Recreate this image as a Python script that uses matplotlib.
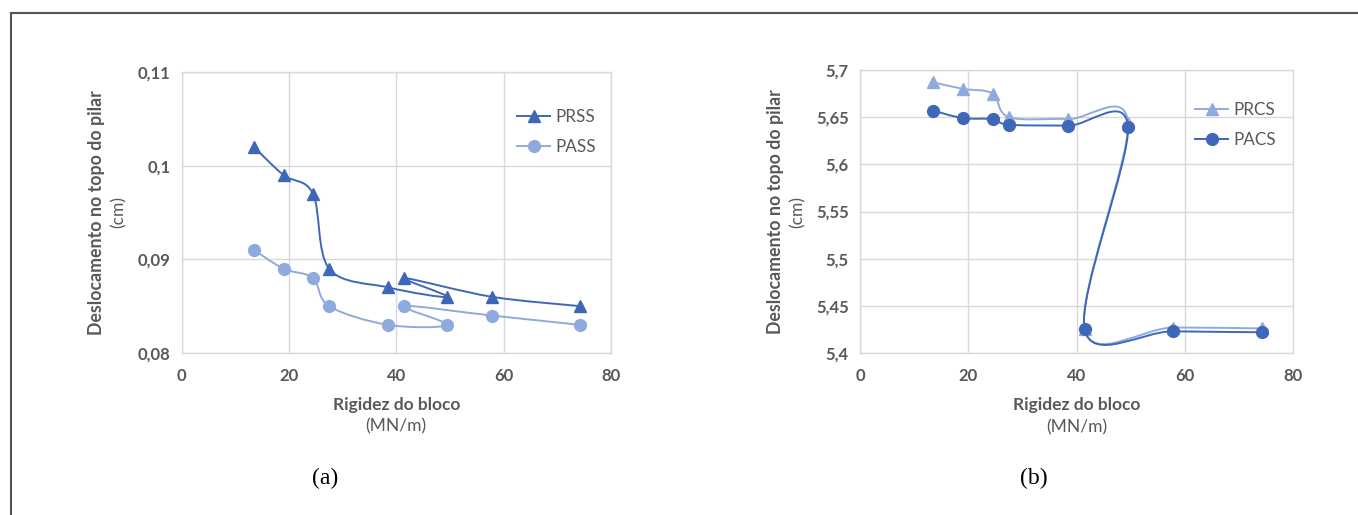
import numpy as np
import matplotlib
matplotlib.use("Agg")
import matplotlib.pyplot as plt
from matplotlib.path import Path
from matplotlib.patches import PathPatch
from matplotlib.lines import Line2D

# Block stiffness (MN/m), in the order the series were plotted
rigidez = [13.5, 19.0, 24.5, 27.5, 38.5, 49.5, 41.5, 57.8, 74.3]

# Panel (a): displacement at pillar top (cm)
prss = [0.102, 0.099, 0.097, 0.089, 0.087, 0.086, 0.088, 0.086, 0.085]
pass_ = [0.091, 0.089, 0.088, 0.085, 0.083, 0.083, 0.085, 0.084, 0.083]

# Panel (b): displacement at pillar top (cm)
prcs = [5.687, 5.680, 5.675, 5.650, 5.648, 5.644, 5.425, 5.427, 5.426]
pacs = [5.657, 5.649, 5.648, 5.642, 5.641, 5.640, 5.425, 5.423, 5.422]

x_ticks = [0, 20, 40, 60, 80]
y_ticks_a = [0.08, 0.09, 0.10, 0.11]
y_tick_labels_a = ["0,08", "0,09", "0,1", "0,11"]
y_ticks_b = [5.40, 5.45, 5.50, 5.55, 5.60, 5.65, 5.70]
y_tick_labels_b = ["5,4", "5,45", "5,5", "5,55", "5,6", "5,65", "5,7"]

DARK = "#3F67B8"
LIGHT = "#8FAADC"
GRID = "#D9D9D9"
TXT = "#595959"
FONT = "Lato"

W, H = 1358, 515
fig = plt.figure(figsize=(W / 100, H / 100), dpi=100)


def px_axes(left, top, right, bottom):
    return fig.add_axes([left / W, 1 - bottom / H, (right - left) / W, (bottom - top) / H])


def smooth_path(xs, ys, t=1 / 6):
    """Cubic Bezier through the points, office-style smoothing."""
    pts = np.column_stack([xs, ys]).astype(float)
    n = len(pts)
    verts = [pts[0]]
    codes = [Path.MOVETO]
    for i in range(n - 1):
        p0 = pts[i - 1] if i > 0 else pts[i]
        p1 = pts[i]
        p2 = pts[i + 1]
        p3 = pts[i + 2] if i + 2 < n else pts[i + 1]
        c1 = p1 + (p2 - p0) * t
        c2 = p2 - (p3 - p1) * t
        verts += [c1, c2, p2]
        codes += [Path.CURVE4] * 3
    return Path(verts, codes)


def series(ax, xs, ys, color, marker, ms, label, z):
    ax.add_patch(PathPatch(smooth_path(xs, ys), facecolor="none", edgecolor=color,
                           lw=1.4, zorder=z, clip_on=False))
    ax.plot(xs, ys, ls="none", marker=marker, ms=ms, color=color, mec=color, zorder=z + 0.5,
            clip_on=False)
    return Line2D([0], [0], color=color, lw=1.4, marker=marker, ms=ms, mec=color, label=label)


def style(ax, yticks, ylabels, ylim):
    ax.set_xlim(0, 80)
    ax.set_ylim(*ylim)
    ax.set_xticks(x_ticks)
    ax.set_yticks(yticks)
    ax.set_xticklabels([str(v) for v in x_ticks])
    ax.set_yticklabels(ylabels)
    ax.grid(True, color=GRID, lw=1)
    ax.set_axisbelow(True)
    for s in ax.spines.values():
        s.set_color(GRID)
        s.set_linewidth(1)
    ax.tick_params(length=0, pad=8, labelsize=12, labelcolor=TXT)
    for lab in ax.get_xticklabels() + ax.get_yticklabels():
        lab.set_fontfamily(FONT)
        lab.set_fontweight("bold")
    ax.tick_params(axis="x", pad=11)


def labels(ax, x_bold, x_norm):
    ax.text(x_bold, 0.5, "Deslocamento no topo do pilar", transform=ax.transAxes,
            rotation=90, ha="center", va="center", fontsize=12.8, fontweight="bold",
            color=TXT, family=FONT)
    ax.text(x_norm, 0.5, "(cm)", transform=ax.transAxes, rotation=90, ha="center",
            va="center", fontsize=12.5, color=TXT, family=FONT)
    ax.text(0.5, -0.185, "Rigidez do bloco", transform=ax.transAxes, ha="center",
            va="center", fontsize=12.5, fontweight="bold", color=TXT, family=FONT)
    ax.text(0.5, -0.262, "(MN/m)", transform=ax.transAxes, ha="center", va="center",
            fontsize=12.5, color=TXT, family=FONT)


LEG = dict(loc="upper left", frameon=False, handlelength=1.9, handletextpad=0.3,
           labelspacing=0.85, borderpad=0, prop={"family": FONT, "size": 12.3},
           labelcolor=TXT)

# Panel (a)
ax1 = px_axes(181.5, 72, 611, 353)
style(ax1, y_ticks_a, y_tick_labels_a, (0.08, 0.11))
h1 = series(ax1, rigidez, prss, DARK, "^", 8.5, "PRSS", 3)
h2 = series(ax1, rigidez, pass_, LIGHT, "o", 8.5, "PASS", 2)
labels(ax1, -0.197, -0.146)
ax1.legend(handles=[h1, h2], bbox_to_anchor=(0.762, 0.9), **LEG)

# Panel (b)
ax2 = px_axes(860, 70, 1293, 353)
style(ax2, y_ticks_b, y_tick_labels_b, (5.40, 5.70))
h3 = series(ax2, rigidez, prcs, LIGHT, "^", 8.5, "PRCS", 2)
h4 = series(ax2, rigidez, pacs, DARK, "o", 8.5, "PACS", 3)
labels(ax2, -0.195, -0.145)
ax2.legend(handles=[h3, h4], bbox_to_anchor=(0.755, 0.918), **LEG)

# Captions
fig.text(325 / W, 1 - 478 / H, "(a)", ha="center", va="center", fontsize=17,
         family="Liberation Serif", color="black")
fig.text(1034 / W, 1 - 478 / H, "(b)", ha="center", va="center", fontsize=17,
         family="Liberation Serif", color="black")

# Outer frame: top and left edges
fig.add_artist(Line2D([11 / W, 1], [1 - 12.5 / H, 1 - 12.5 / H], transform=fig.transFigure,
                      color="#555555", lw=1.5))
fig.add_artist(Line2D([11 / W, 11 / W], [0, 1 - 12.5 / H], transform=fig.transFigure,
                      color="#555555", lw=1.5))

fig.savefig("out.png", dpi=100)
